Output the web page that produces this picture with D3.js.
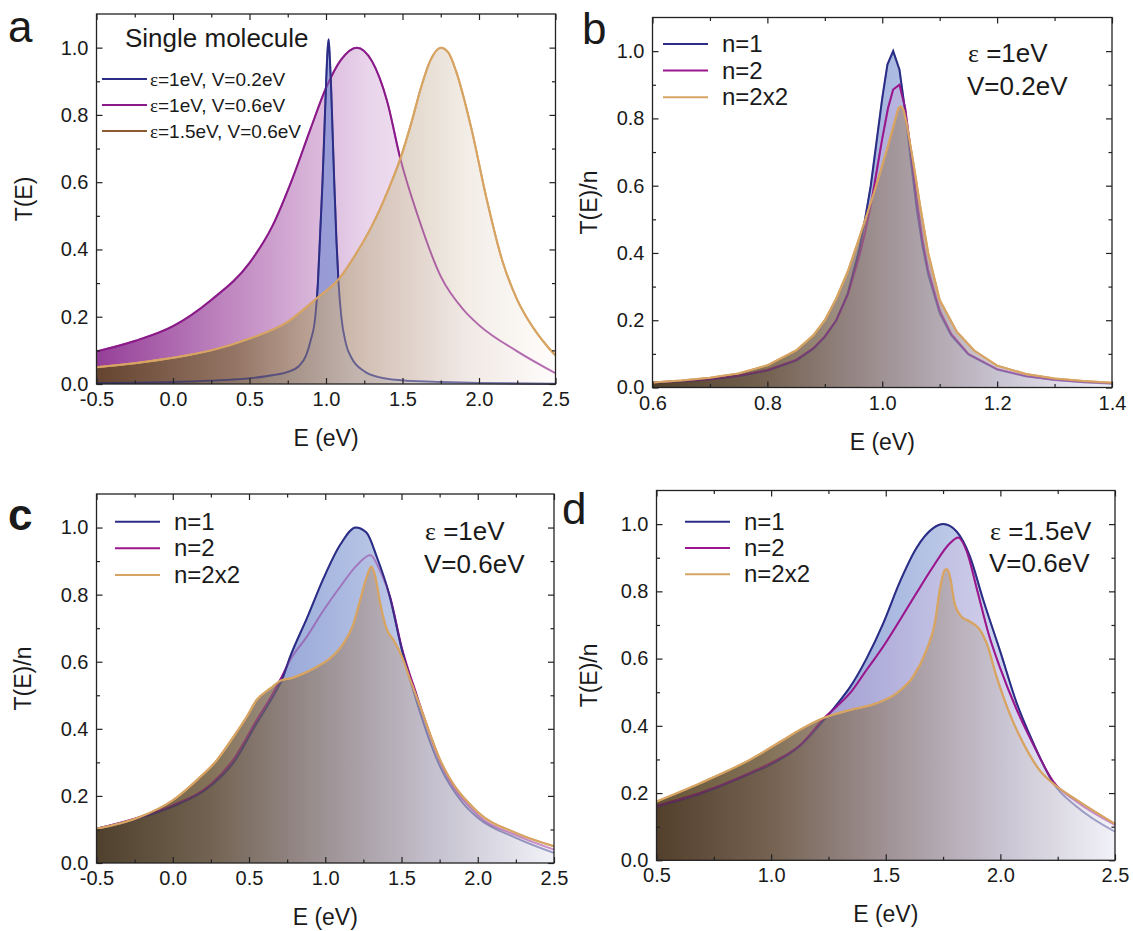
<!DOCTYPE html>
<html>
<head>
<meta charset="utf-8">
<title>T(E)</title>
<script src="https://cdn.jsdelivr.net/npm/d3@7"></script>
<style>
  body { margin: 0; background: #fff; }
  svg text { font-family: "Liberation Sans", Arial, sans-serif; fill: #1a1a1a; }
</style>
</head>
<body>
<div id="chart"></div>
<script>
"use strict"

// ---- panel a : single molecule, [E, T]
var aV02 = [[-0.5,0.003],[0,0.006],[0.25,0.01],[0.5,0.017],[0.65,0.026],[0.75,0.036],[0.82,0.052],[0.87,0.085],[0.9,0.13],[0.93,0.2],[0.947,0.3],[0.962,0.45],[0.977,0.6],[0.99,0.76],[1.001,0.9],[1.01,0.99],[1.017,1.025],[1.025,0.97],[1.032,0.9],[1.043,0.75],[1.054,0.6],[1.068,0.43],[1.082,0.3],[1.1,0.2],[1.13,0.12],[1.17,0.075],[1.25,0.038],[1.35,0.02],[1.5,0.011],[1.75,0.006],[2.0,0.003],[2.5,0.001]];
var aV06 = [[-0.5,0.097],[-0.25,0.128],[0,0.172],[0.25,0.25],[0.5,0.36],[0.65,0.47],[0.78,0.61],[0.9,0.76],[1.0,0.88],[1.1,0.965],[1.2,1.0],[1.3,0.96],[1.4,0.84],[1.486,0.67],[1.6,0.5],[1.75,0.32],[1.9,0.22],[2.0,0.175],[2.25,0.097],[2.5,0.032]];
var aE15 = [[-0.5,0.05],[-0.25,0.062],[0,0.078],[0.25,0.1],[0.5,0.135],[0.75,0.185],[0.94,0.255],[1.08,0.31],[1.2,0.39],[1.3,0.47],[1.4,0.57],[1.486,0.67],[1.56,0.78],[1.62,0.88],[1.68,0.96],[1.75,1.0],[1.8,0.985],[1.85,0.93],[1.95,0.76],[2.05,0.55],[2.15,0.37],[2.25,0.25],[2.35,0.17],[2.45,0.11],[2.5,0.085]];

// ---- panel b : eps=1, V=0.2
var bN1 = [[0.6,0.014],[0.65,0.018],[0.7,0.024],[0.75,0.034],[0.8,0.05],[0.85,0.08],[0.88,0.115],[0.9,0.15],[0.92,0.2],[0.94,0.28],[0.96,0.41],[0.97,0.5],[0.98,0.6],[0.99,0.73],[1.0,0.86],[1.009,0.96],[1.019,1.0],[1.03,0.945],[1.04,0.82],[1.05,0.67],[1.06,0.53],[1.07,0.42],[1.08,0.335],[1.1,0.22],[1.12,0.155],[1.15,0.098],[1.2,0.053],[1.25,0.033],[1.3,0.022],[1.35,0.015],[1.4,0.011]];
var bN2 = [[0.6,0.015],[0.65,0.019],[0.7,0.025],[0.75,0.035],[0.8,0.052],[0.85,0.082],[0.88,0.117],[0.9,0.152],[0.92,0.2],[0.94,0.275],[0.96,0.39],[0.97,0.46],[0.98,0.54],[0.99,0.64],[1.0,0.74],[1.01,0.83],[1.019,0.886],[1.03,0.9],[1.04,0.83],[1.05,0.7],[1.06,0.56],[1.07,0.44],[1.08,0.35],[1.1,0.23],[1.12,0.16],[1.15,0.1],[1.2,0.055],[1.25,0.034],[1.3,0.023],[1.35,0.016],[1.4,0.012]];
var bN22 = [[0.6,0.015],[0.65,0.021],[0.7,0.029],[0.75,0.042],[0.8,0.066],[0.85,0.11],[0.88,0.155],[0.9,0.2],[0.92,0.265],[0.94,0.345],[0.96,0.445],[0.984,0.57],[1.0,0.66],[1.008,0.707],[1.02,0.78],[1.028,0.83],[1.032,0.836],[1.037,0.826],[1.042,0.79],[1.054,0.67],[1.066,0.54],[1.08,0.4],[1.1,0.26],[1.13,0.165],[1.16,0.11],[1.2,0.065],[1.25,0.04],[1.3,0.027],[1.35,0.019],[1.4,0.014]];

// ---- panel c : eps=1, V=0.6
var cN1 = [[-0.5,0.102],[-0.25,0.13],[0,0.168],[0.25,0.23],[0.4,0.3],[0.55,0.416],[0.65,0.49],[0.715,0.545],[0.77,0.615],[0.88,0.73],[0.99,0.85],[1.1,0.95],[1.2,1.0],[1.27,0.985],[1.34,0.91],[1.42,0.8],[1.5,0.64],[1.6,0.48],[1.75,0.29],[1.9,0.18],[2.0,0.135],[2.25,0.075],[2.5,0.03]];
var cN2 = [[-0.5,0.102],[-0.25,0.132],[0,0.172],[0.25,0.235],[0.4,0.31],[0.55,0.426],[0.65,0.5],[0.715,0.555],[0.77,0.605],[0.88,0.675],[0.99,0.754],[1.1,0.825],[1.21,0.889],[1.295,0.918],[1.36,0.87],[1.427,0.79],[1.5,0.645],[1.6,0.5],[1.755,0.3],[2.0,0.143],[2.25,0.083],[2.5,0.04]];
var cN22 = [[-0.5,0.102],[-0.215,0.137],[0,0.187],[0.157,0.247],[0.288,0.306],[0.398,0.376],[0.485,0.436],[0.55,0.486],[0.638,0.52],[0.715,0.545],[0.77,0.55],[0.857,0.565],[0.945,0.585],[1.032,0.61],[1.12,0.655],[1.186,0.714],[1.229,0.784],[1.273,0.854],[1.302,0.884],[1.328,0.854],[1.36,0.774],[1.405,0.695],[1.448,0.665],[1.503,0.615],[1.558,0.545],[1.623,0.466],[1.755,0.306],[2.0,0.152],[2.25,0.09],[2.5,0.05]];

// ---- panel d : eps=1.5, V=0.6
var dN1 = [[0.5,0.16],[0.7,0.2],[0.9,0.255],[1.0,0.285],[1.125,0.34],[1.234,0.42],[1.3,0.475],[1.344,0.515],[1.416,0.6],[1.489,0.705],[1.562,0.829],[1.634,0.929],[1.707,0.988],[1.751,1.0],[1.809,0.978],[1.867,0.904],[1.925,0.775],[2.0,0.62],[2.07,0.47],[2.143,0.35],[2.23,0.23],[2.332,0.16],[2.5,0.085]];
var dN2 = [[0.5,0.162],[0.7,0.203],[0.9,0.258],[1.0,0.29],[1.125,0.342],[1.234,0.425],[1.285,0.457],[1.344,0.497],[1.416,0.566],[1.489,0.636],[1.562,0.715],[1.634,0.795],[1.707,0.874],[1.78,0.943],[1.816,0.96],[1.853,0.92],[1.9,0.8],[1.95,0.67],[2.0,0.57],[2.07,0.45],[2.143,0.345],[2.23,0.235],[2.332,0.175],[2.5,0.105]];
var dN22 = [[0.5,0.175],[0.689,0.229],[0.907,0.299],[1.053,0.358],[1.125,0.388],[1.227,0.423],[1.344,0.447],[1.46,0.467],[1.547,0.497],[1.62,0.547],[1.678,0.626],[1.714,0.705],[1.736,0.805],[1.758,0.864],[1.768,0.866],[1.78,0.844],[1.8,0.765],[1.83,0.725],[1.867,0.71],[1.91,0.686],[1.94,0.646],[1.983,0.547],[2.04,0.437],[2.1,0.348],[2.17,0.269],[2.238,0.224],[2.332,0.18],[2.5,0.108]];

// ---- ticks
var yMajor = [0, 0.2, 0.4, 0.6, 0.8, 1.0];
var yMinor = [0.1, 0.3, 0.5, 0.7, 0.9];
var xMajorWide = [-0.5, 0, 0.5, 1.0, 1.5, 2.0, 2.5];
var xMinorWide = [-0.25, 0.25, 0.75, 1.25, 1.75, 2.25];
var xMajorB = [0.6, 0.8, 1.0, 1.2, 1.4];
var xMinorB = [0.7, 0.9, 1.1, 1.3];
var xMajorD = [0.5, 1.0, 1.5, 2.0, 2.5];
var xMinorD = [0.75, 1.25, 1.75, 2.25];

// ---- labels
var legendA = ["=1eV, V=0.2eV", "=1eV, V=0.6eV", "=1.5eV, V=0.6eV"];
var legendN = ["n=1", "n=2", "n=2x2"];

var NAVY = "#2b2d86", MAG = "#9c168d", PURP = "#8b1a89", TAN = "#d7a463";

var svg = d3.select("#chart").append("svg").attr("width", 1133).attr("height", 931);
var defs = svg.append("defs");

function gradient(id, x0, x1, stops) {
  var lg = defs.append("linearGradient").attr("id", id)
    .attr("gradientUnits", "userSpaceOnUse")
    .attr("x1", x0).attr("x2", x1).attr("y1", 0).attr("y2", 0);
  stops.forEach(s => lg.append("stop").attr("offset", s[0]).attr("stop-color", s[1]));
}

var fmt = d => d.toFixed(1);

function drawPanel(p) {
  var x = d3.scaleLinear().domain(p.xDomain).range([p.left, p.right]);
  var y = d3.scaleLinear().domain([0, 1.1]).range([p.bottom, p.top]);
  var g = svg.append("g");
  var line = d3.line().x(d => x(d[0])).y(d => y(d[1])).curve(p.curve);
  var area = d3.area().x(d => x(d[0])).y0(y(0)).y1(d => y(d[1])).curve(p.curve);

  p.series.forEach((s, i) => {
    var gid = p.id + "g" + i;
    gradient(gid, p.left, p.right, s.stops);
    g.append("path").datum(s.data).attr("d", area)
      .attr("fill", "url(#" + gid + ")").attr("fill-opacity", s.op);
    g.append("path").datum(s.data).attr("d", line)
      .attr("fill", "none").attr("stroke", s.color).attr("stroke-width", 2);
  });
  // lines that sit under the last fill show through it, faded
  p.series.slice(0, -1).forEach(s => {
    g.append("path").datum(s.data).attr("d", line)
      .attr("fill", "none").attr("stroke", s.color).attr("stroke-width", 1.8)
      .attr("stroke-opacity", p.ghost);
  });
  var last = p.series[p.series.length - 1];
  g.append("path").datum(last.data).attr("d", line)
    .attr("fill", "none").attr("stroke", last.color).attr("stroke-width", 2);

  // axes, ticks inward on all sides
  function styleAx(sel) {
    sel.select(".domain").remove();
    sel.selectAll("line").attr("stroke", "#222").attr("stroke-width", 1.2);
    sel.attr("font-size", 20).attr("font-family", "Liberation Sans, Arial, sans-serif");
    sel.selectAll("text").attr("fill", "#1a1a1a");
  }
  g.append("g").attr("transform", "translate(0," + p.bottom + ")")
    .call(d3.axisBottom(x).tickValues(p.xMajor).tickSize(-6).tickPadding(8).tickFormat(fmt)).call(styleAx);
  g.append("g").attr("transform", "translate(0," + p.bottom + ")")
    .call(d3.axisBottom(x).tickValues(p.xMinor).tickSize(-3.5).tickFormat("")).call(styleAx);
  g.append("g").attr("transform", "translate(0," + p.top + ")")
    .call(d3.axisTop(x).tickValues(p.xMajor).tickSize(-6).tickFormat("")).call(styleAx);
  g.append("g").attr("transform", "translate(0," + p.top + ")")
    .call(d3.axisTop(x).tickValues(p.xMinor).tickSize(-3.5).tickFormat("")).call(styleAx);
  g.append("g").attr("transform", "translate(" + p.left + ",0)")
    .call(d3.axisLeft(y).tickValues(yMajor).tickSize(-6).tickPadding(8).tickFormat(fmt)).call(styleAx);
  g.append("g").attr("transform", "translate(" + p.left + ",0)")
    .call(d3.axisLeft(y).tickValues(yMinor).tickSize(-3.5).tickFormat("")).call(styleAx);
  g.append("g").attr("transform", "translate(" + p.right + ",0)")
    .call(d3.axisRight(y).tickValues(yMajor).tickSize(-6).tickFormat("")).call(styleAx);
  g.append("g").attr("transform", "translate(" + p.right + ",0)")
    .call(d3.axisRight(y).tickValues(yMinor).tickSize(-3.5).tickFormat("")).call(styleAx);

  g.append("rect").attr("x", p.left).attr("y", p.top)
    .attr("width", p.right - p.left).attr("height", p.bottom - p.top)
    .attr("fill", "none").attr("stroke", "#222").attr("stroke-width", 1.3);

  // axis titles
  g.append("text").attr("x", (p.left + p.right) / 2).attr("y", p.bottom + 62)
    .attr("text-anchor", "middle").attr("font-size", 23).text("E (eV)");
  g.append("text").attr("transform", "translate(" + (p.left - p.yTitleOff) + "," + (p.top + p.bottom) / 2 + ") rotate(-90)")
    .attr("text-anchor", "middle").attr("font-size", 23).text(p.yTitle);

  // panel letter
  g.append("text").attr("x", p.letterX).attr("y", p.letterY)
    .attr("font-size", 44).attr("font-weight", p.letterBold ? "bold" : "normal").text(p.letter);

  return g;
}

var fillN1 = [[0, "#5d6fb8"], [0.5, "#9eb0dc"], [1, "#eef0fa"]];
var fillN2 = [[0, "#8a5aa8"], [0.5, "#c0a8d8"], [1, "#f2eef8"]];
var fillN22 = [[0, "#4b3714"], [0.25, "#6f5a3c"], [0.5, "#9c8c88"], [0.75, "#c6c0cc"], [1, "#f2f2f8"]];

var sN1 = {color: NAVY, stops: fillN1, op: 0.9};
var sN2 = {color: MAG, stops: fillN2, op: 0.45};
var sN22 = {color: TAN, stops: fillN22, op: 0.85};
function withData(s, d) { return Object.assign({}, s, {data: d}); }

// panel a
var ga = drawPanel({
  id: "a", left: 96.5, right: 555.5, top: 14, bottom: 384,
  xDomain: [-0.5, 2.5], xMajor: xMajorWide, xMinor: xMinorWide,
  yTitle: "T(E)", yTitleOff: 65, letter: "a", letterX: 8, letterY: 42, curve: d3.curveMonotoneX, ghost: 0.55,
  series: [
    {data: aV06, color: PURP, stops: [[0, "#953f98"], [0.35, "#c896c8"], [0.6, "#ead6ec"], [1, "#fdf8fd"]], op: 1},
    {data: aV02, color: NAVY, stops: [[0, "#7b8dd2"], [1, "#7b8dd2"]], op: 0.7},
    {data: aE15, color: TAN, stops: [[0, "#5a4418"], [0.3, "#8a7050"], [0.55, "#c8b4a0"], [0.8, "#efe8e0"], [1, "#fffdfb"]], op: 0.82}
  ]
});
ga.append("text").attr("x", 125).attr("y", 47).attr("font-size", 26).text("Single molecule");
var legAcol = [NAVY, PURP, "#8a5a30"];
legendA.forEach((t, i) => {
  var yy = 79 + i * 26;
  ga.append("line").attr("x1", 102).attr("x2", 147).attr("y1", yy).attr("y2", yy)
    .attr("stroke", legAcol[i]).attr("stroke-width", 2);
  var tx = ga.append("text").attr("x", 150).attr("y", yy + 7).attr("font-size", 19);
  tx.append("tspan").attr("font-family", "Liberation Serif, serif").text("\u03b5");
  tx.append("tspan").text(t);
});

var gb = drawPanel({
  id: "b", left: 652.5, right: 1112, top: 17.5, bottom: 387.5,
  xDomain: [0.6, 1.4], xMajor: xMajorB, xMinor: xMinorB,
  yTitle: "T(E)/n", yTitleOff: 56, letter: "b", letterX: 582, letterY: 44, curve: d3.curveLinear, ghost: 0.35,
  series: [withData(sN1, bN1), withData(sN2, bN2), withData(sN22, bN22)]
});
var gc = drawPanel({
  id: "c", left: 96.5, right: 554, top: 494, bottom: 863,
  xDomain: [-0.5, 2.5], xMajor: xMajorWide, xMinor: xMinorWide,
  yTitle: "T(E)/n", yTitleOff: 66, letter: "c", letterX: 8, letterY: 530, letterBold: true, curve: d3.curveMonotoneX, ghost: 0.35,
  series: [withData(sN2, cN2), withData(sN1, cN1), withData(sN22, cN22)]
});
var gd = drawPanel({
  id: "d", left: 656.5, right: 1115, top: 490.5, bottom: 860.3,
  xDomain: [0.5, 2.5], xMajor: xMajorD, xMinor: xMinorD,
  yTitle: "T(E)/n", yTitleOff: 60, letter: "d", letterX: 562, letterY: 524, curve: d3.curveMonotoneX, ghost: 0.35,
  series: [withData(sN1, dN1), withData(sN2, dN2), withData(sN22, dN22)]
});

function legendNs(g, x0, y0, step) {
  var cols = [NAVY, MAG, TAN];
  legendN.forEach((t, i) => {
    var yy = y0 + i * step;
    g.append("line").attr("x1", x0).attr("x2", x0 + 45).attr("y1", yy).attr("y2", yy)
      .attr("stroke", cols[i]).attr("stroke-width", 2);
    g.append("text").attr("x", x0 + 59).attr("y", yy + 8).attr("font-size", 24).text(t);
  });
}
legendNs(gb, 663, 44, 26.6);
legendNs(gc, 115, 521.7, 26.6);
legendNs(gd, 685, 521.7, 26.3);

function note(g, x, y1, y2, eps, v) {
  var t = g.append("text").attr("x", x).attr("y", y1).attr("font-size", 26);
  t.append("tspan").attr("font-family", "Liberation Serif, serif").text("\u03b5");
  t.append("tspan").text(" =" + eps);
  g.append("text").attr("x", x - 1).attr("y", y2).attr("font-size", 26).text(v);
}
note(gb, 968, 61.5, 95, "1eV", "V=0.2eV");
note(gc, 425, 540, 572.5, "1eV", "V=0.6eV");
note(gd, 990, 540, 571.5, "1.5eV", "V=0.6eV");
</script>
</body>
</html>
